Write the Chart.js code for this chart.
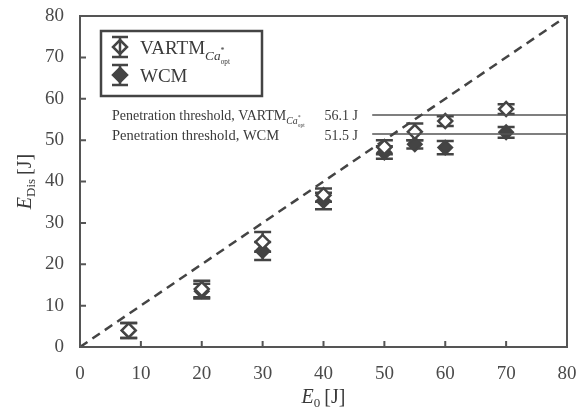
<!DOCTYPE html>
<html>
<head>
<meta charset="utf-8">
<script src="https://cdn.jsdelivr.net/npm/chart.js@4.4.0/dist/chart.umd.min.js"></script>
<style>
  html, body { margin: 0; background: #fff; }
</style>
</head>
<body>
<canvas id="chart" width="578" height="414"></canvas>
<script>
// impact energy vs dissipated energy
const energyIn = [8, 20, 30, 40, 50, 55, 60, 70];
const vartmDis = [4.0, 14.0, 25.4, 36.7, 48.3, 52.0, 54.6, 57.5];
const vartmErr = [1.8, 2.0, 2.4, 1.6, 1.7, 2.0, 1.2, 1.2];
const wcmDis = [4.0, 13.5, 23.2, 35.3, 47.0, 49.0, 48.2, 51.9];
const wcmErr = [1.8, 1.8, 2.2, 2.0, 1.5, 1.0, 1.6, 1.3];
const thresholds = [56.1, 51.5];
const thresholdLabels = ["56.1 J", "51.5 J"];
const thresholdStart = 48;
const axisMin = 0;
const axisMax = 80;
const axisStep = 10;

const INK = "#444";
const SERIF = "'Liberation Serif', 'DejaVu Serif', serif";

// draws text pieces with sub/superscripts, returns end x
function richText(ctx, x, y, parts) {
  let cx = x;
  parts.forEach((p) => {
    ctx.font = (p.italic ? "italic " : "") + p.size + "px " + SERIF;
    ctx.fillText(p.t, cx, y + (p.dy || 0));
    cx += ctx.measureText(p.t).width + (p.gap || 0);
  });
  return cx;
}
function richWidth(ctx, parts) {
  let w = 0;
  parts.forEach((p) => {
    ctx.font = (p.italic ? "italic " : "") + p.size + "px " + SERIF;
    w += ctx.measureText(p.t).width + (p.gap || 0);
  });
  return w;
}

function caOpt(size) {
  return [
    { t: "Ca", italic: true, size: size * 0.7, dy: size * 0.3 },
    { t: "*", size: size * 0.42, dy: -size * 0.05, gap: -size * 0.2 },
    { t: "opt", size: size * 0.38, dy: size * 0.5 },
  ];
}

function errorBars(ctx, xs, scale, ys, errs) {
  const cap = 8.5;
  xs.forEach((xv, i) => {
    const px = scale.x.getPixelForValue(xv);
    const top = scale.y.getPixelForValue(ys[i] + errs[i]);
    const bot = scale.y.getPixelForValue(ys[i] - errs[i]);
    ctx.beginPath();
    ctx.moveTo(px, top); ctx.lineTo(px, bot);
    ctx.moveTo(px - cap, top); ctx.lineTo(px + cap, top);
    ctx.moveTo(px - cap, bot); ctx.lineTo(px + cap, bot);
    ctx.stroke();
  });
}

const decorations = {
  id: "decorations",
  beforeDatasetsDraw(chart) {
    const { ctx, scales } = chart;
    const s = { x: scales.x, y: scales.y };
    ctx.save();
    ctx.strokeStyle = INK;
    ctx.lineWidth = 2.5;
    errorBars(ctx, energyIn, s, vartmDis, vartmErr);
    errorBars(ctx, energyIn, s, wcmDis, wcmErr);
    ctx.restore();
  },
  afterDraw(chart) {
    const { ctx, chartArea: a, scales } = chart;
    ctx.save();
    ctx.strokeStyle = "#555";
    ctx.lineWidth = 2;
    ctx.strokeRect(a.left, a.top, a.right - a.left, a.bottom - a.top);

    // inward ticks
    ctx.beginPath();
    for (let v = axisMin; v <= axisMax; v += axisStep) {
      const px = scales.x.getPixelForValue(v);
      ctx.moveTo(px, a.bottom); ctx.lineTo(px, a.bottom - 6);
      const py = scales.y.getPixelForValue(v);
      ctx.moveTo(a.left, py); ctx.lineTo(a.left + 6, py);
    }
    ctx.stroke();

    ctx.fillStyle = "#3a3a3a";
    ctx.textBaseline = "alphabetic";
    ctx.textAlign = "left";

    // threshold annotations
    const ly1 = scales.y.getPixelForValue(thresholds[0]) + 5;
    const ly2 = scales.y.getPixelForValue(thresholds[1]) + 6;
    richText(ctx, 112, ly1, [{ t: "Penetration threshold, VARTM", size: 14 }].concat(caOpt(14)));
    richText(ctx, 112, ly2, [{ t: "Penetration threshold, WCM", size: 14.5 }]);
    ctx.font = "14px " + SERIF;
    ctx.textAlign = "right";
    ctx.fillText(thresholdLabels[0], 358, ly1);
    ctx.fillText(thresholdLabels[1], 358, ly2);
    ctx.textAlign = "left";

    // legend
    ctx.strokeStyle = "#444";
    ctx.lineWidth = 2.5;
    ctx.strokeRect(101, 31, 161, 65);
    const rows = [
      { y: 47, fill: "#fff", parts: [{ t: "VARTM", size: 19 }].concat(caOpt(19)) },
      { y: 75, fill: "#444", parts: [{ t: "WCM", size: 19 }] },
    ];
    rows.forEach((r) => {
      const mx = 120;
      ctx.lineWidth = 2.5;
      ctx.beginPath();
      ctx.moveTo(mx, r.y - 10); ctx.lineTo(mx, r.y + 10);
      ctx.moveTo(mx - 8, r.y - 10); ctx.lineTo(mx + 8, r.y - 10);
      ctx.moveTo(mx - 8, r.y + 10); ctx.lineTo(mx + 8, r.y + 10);
      ctx.stroke();
      ctx.beginPath();
      ctx.moveTo(mx, r.y - 7); ctx.lineTo(mx + 7, r.y);
      ctx.lineTo(mx, r.y + 7); ctx.lineTo(mx - 7, r.y); ctx.closePath();
      ctx.fillStyle = r.fill;
      ctx.fill();
      ctx.stroke();
      if (r.fill === "#fff") {
        ctx.beginPath();
        ctx.moveTo(mx, r.y - 7); ctx.lineTo(mx, r.y + 7);
        ctx.stroke();
      }
      ctx.fillStyle = "#3a3a3a";
      richText(ctx, 140, r.y + 7, r.parts);
    });

    // axis titles
    const xt = [{ t: "E", italic: true, size: 20 }, { t: "0", size: 13, dy: 4, gap: 4 }, { t: "[J]", size: 20 }];
    const cx = (a.left + a.right) / 2;
    richText(ctx, cx - richWidth(ctx, xt) / 2, 403, xt);

    const yt = [{ t: "E", italic: true, size: 20 }, { t: "Dis", size: 13, dy: 4, gap: 4 }, { t: "[J]", size: 20 }];
    ctx.translate(31, (a.top + a.bottom) / 2);
    ctx.rotate(-Math.PI / 2);
    richText(ctx, -richWidth(ctx, yt) / 2, 0, yt);
    ctx.restore();
  },
};

const axis = (extra) => Object.assign({
  type: "linear",
  min: axisMin,
  max: axisMax,
  grid: { display: false },
  border: { display: false },
}, extra);

const tickStyle = { stepSize: axisStep, padding: 8, color: "#4a4a4a", font: { family: SERIF, size: 19 } };

new Chart(document.getElementById("chart"), {
  type: "scatter",
  data: {
    datasets: [
      {
        type: "line",
        data: [{ x: axisMin, y: axisMin }, { x: axisMax, y: axisMax }],
        borderColor: INK,
        borderWidth: 2.5,
        borderDash: [9, 6],
        pointRadius: 0,
      },
      ...thresholds.map((t) => ({
        type: "line",
        data: [{ x: thresholdStart, y: t }, { x: axisMax, y: t }],
        borderColor: "#555",
        borderWidth: 1.5,
        pointRadius: 0,
      })),
      {
        label: "VARTM",
        data: energyIn.map((x, i) => ({ x, y: vartmDis[i] })),
        pointStyle: "rectRot",
        pointRadius: 7,
        backgroundColor: "#fff",
        borderColor: INK,
        borderWidth: 2.5,
      },
      {
        label: "WCM",
        data: energyIn.map((x, i) => ({ x, y: wcmDis[i] })),
        pointStyle: "rectRot",
        pointRadius: 7,
        backgroundColor: INK,
        borderColor: INK,
        borderWidth: 2,
      },
    ],
  },
  options: {
    responsive: false,
    animation: false,
    layout: { padding: { top: 16, right: 11, left: 0, bottom: 0 } },
    plugins: { legend: { display: false }, tooltip: { enabled: false } },
    scales: {
      x: axis({
        position: "bottom",
        afterFit: (s) => { s.height = 67; s.paddingLeft = 0; s.paddingRight = 0; },
        ticks: tickStyle,
      }),
      y: axis({
        position: "left",
        afterFit: (s) => { s.width = 80; s.paddingTop = 0; s.paddingBottom = 0; },
        ticks: tickStyle,
      }),
    },
  },
  plugins: [decorations],
});
</script>
</body>
</html>
